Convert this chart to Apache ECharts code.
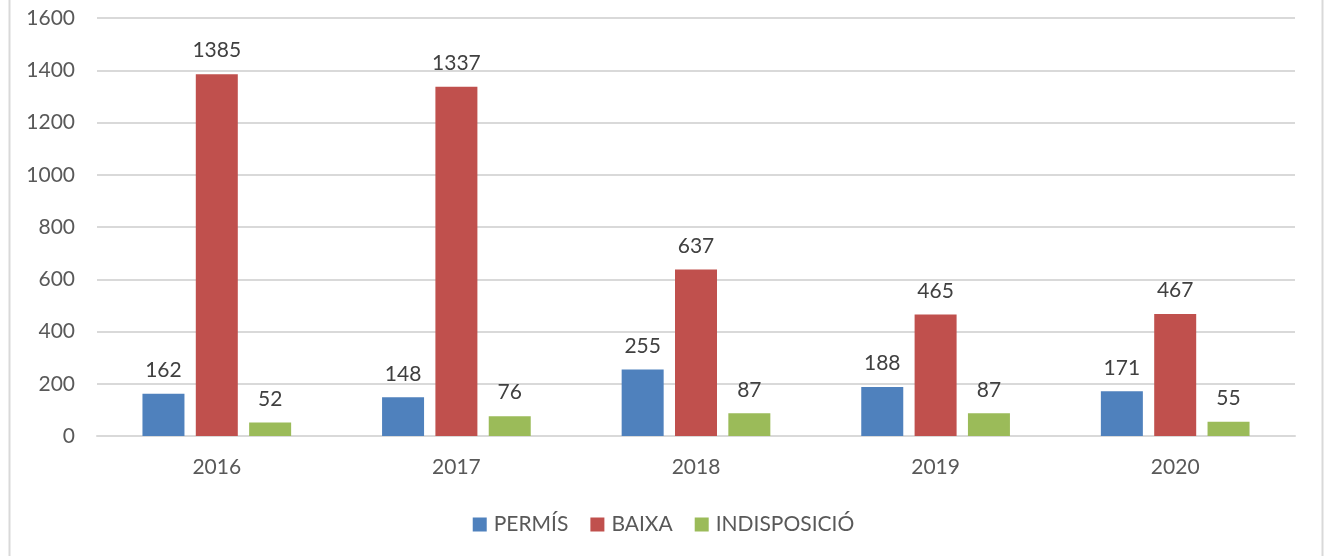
<!DOCTYPE html>
<html>
<head>
<meta charset="utf-8">
<script src="https://cdn.jsdelivr.net/npm/echarts@6/dist/echarts.min.js"></script>
<style>
  html, body { margin: 0; padding: 0; background: #fff; }
  #chart { width: 1327px; height: 556px; }
</style>
</head>
<body>
<div id="chart"></div>
<script>
// years on the x axis
const years = ['2016', '2017', '2018', '2019', '2020'];
// values per series
const permis = [162, 148, 255, 188, 171];
const baixa = [1385, 1337, 637, 465, 467];
const indisposicio = [52, 76, 87, 87, 55];
const seriesNames = ['PERMÍS', 'BAIXA', 'INDISPOSICIÓ'];
const colors = ['#4F81BD', '#C0504D', '#9BBB59'];

const font = 'Lato, "Open Sans", sans-serif';

function barSeries(name, data, color) {
  return {
    name: name,
    type: 'bar',
    data: data,
    barWidth: 42,
    barGap: '27%',
    itemStyle: { color: color },
    label: {
      show: true,
      position: 'top',
      distance: 13,
      color: '#404040',
      fontFamily: font,
      fontSize: 21
    }
  };
}

const chart = echarts.init(document.getElementById('chart'));
chart.setOption({
  backgroundColor: '#fff',
  animation: false,
  textStyle: { fontFamily: font },
  graphic: [{
    type: 'rect',
    shape: { x: 9.5, y: -5, width: 1313, height: 570 },
    style: { fill: 'none', stroke: '#d9d9d9', lineWidth: 2 },
    silent: true
  }],
  grid: { left: 97, right: 32, top: 18, bottom: 120 },
  legend: {
    data: seriesNames,
    top: 509,
    left: 'center',
    itemWidth: 14,
    itemHeight: 14,
    itemGap: 22,
    icon: 'rect',
    textStyle: { color: '#595959', fontFamily: font, fontSize: 21, padding: [0, 0, 0, 2] }
  },
  xAxis: {
    type: 'category',
    data: years,
    axisLine: { lineStyle: { color: '#d9d9d9', width: 2 } },
    axisTick: { show: false },
    axisLabel: { color: '#595959', fontSize: 21, fontFamily: font, margin: 21 }
  },
  yAxis: {
    type: 'value',
    min: 0,
    max: 1600,
    interval: 200,
    axisLine: { show: false },
    axisTick: { show: false },
    splitLine: { lineStyle: { color: '#d9d9d9', width: 2 } },
    axisLabel: {
      color: '#595959', fontSize: 21, fontFamily: font, margin: 22,
      formatter: function (v) { return String(v); }
    }
  },
  series: [
    barSeries(seriesNames[0], permis, colors[0]),
    barSeries(seriesNames[1], baixa, colors[1]),
    barSeries(seriesNames[2], indisposicio, colors[2])
  ]
});
</script>
</body>
</html>
